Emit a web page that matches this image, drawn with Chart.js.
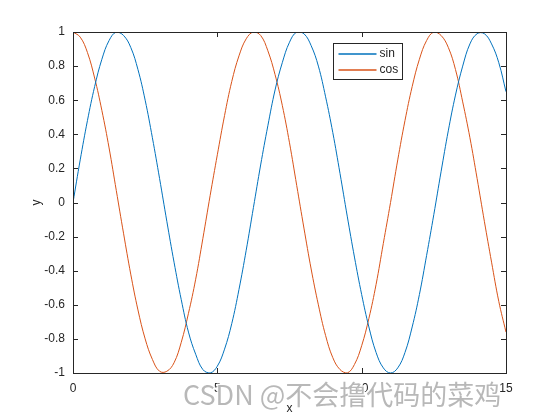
<!DOCTYPE html>
<html>
<head>
<meta charset="utf-8">
<script src="https://cdn.jsdelivr.net/npm/chart.js@4"></script>
<style>
  html, body { margin: 0; padding: 0; background: #fff; }
  canvas { display: block; }
</style>
</head>
<body>
<canvas id="plot" width="560" height="420"></canvas>
<script>
// x samples read along the axis, step 0.25
const xValues = [
  0, 0.25, 0.5, 0.75, 1, 1.25, 1.5, 1.75, 2, 2.25, 2.5, 2.75, 3, 3.25, 3.5, 3.75,
  4, 4.25, 4.5, 4.75, 5, 5.25, 5.5, 5.75, 6, 6.25, 6.5, 6.75, 7, 7.25, 7.5, 7.75,
  8, 8.25, 8.5, 8.75, 9, 9.25, 9.5, 9.75, 10, 10.25, 10.5, 10.75, 11, 11.25, 11.5, 11.75,
  12, 12.25, 12.5, 12.75, 13, 13.25, 13.5, 13.75, 14, 14.25, 14.5, 14.75, 15
];
const sinValues = [
  0.00, 0.25, 0.48, 0.68, 0.84, 0.95, 1.00, 0.98, 0.91, 0.78, 0.60, 0.38, 0.14, -0.11, -0.35, -0.57,
  -0.76, -0.89, -0.98, -1.00, -0.96, -0.86, -0.71, -0.51, -0.28, -0.03, 0.22, 0.45, 0.66, 0.82, 0.94, 1.00,
  0.99, 0.92, 0.80, 0.62, 0.41, 0.17, -0.08, -0.32, -0.54, -0.73, -0.88, -0.97, -1.00, -0.97, -0.88, -0.73,
  -0.54, -0.31, -0.07, 0.18, 0.42, 0.63, 0.80, 0.93, 0.99, 0.99, 0.93, 0.82, 0.65
];
const cosValues = [
  1.00, 0.97, 0.88, 0.73, 0.54, 0.32, 0.07, -0.18, -0.42, -0.63, -0.80, -0.92, -0.99, -0.99, -0.94, -0.82,
  -0.65, -0.45, -0.21, 0.04, 0.28, 0.51, 0.71, 0.86, 0.96, 1.00, 0.98, 0.89, 0.75, 0.57, 0.35, 0.10,
  -0.15, -0.39, -0.60, -0.78, -0.91, -0.98, -1.00, -0.95, -0.84, -0.68, -0.48, -0.24, 0.00, 0.25, 0.48, 0.68,
  0.84, 0.95, 1.00, 0.98, 0.91, 0.78, 0.59, 0.38, 0.14, -0.11, -0.35, -0.58, -0.76
];
const seriesNames = ['sin', 'cos'];
const seriesColors = ['#0072BD', '#D95319'];
const watermark = 'CSDN @不会撸代码的菜鸡';

const axisColor = '#262626';
const font = { family: '"Liberation Sans", Arial, sans-serif', size: 12 };

// box, inward ticks and legend drawn the MATLAB way
const matlabAxes = {
  id: 'matlabAxes',
  afterDraw(chart) {
    const { ctx, chartArea: a, scales } = chart;
    const tl = 5;
    ctx.save();
    ctx.strokeStyle = axisColor;
    ctx.lineWidth = 1;
    ctx.strokeRect(a.left + 0.5, a.top + 0.5, a.right - a.left, a.bottom - a.top);
    ctx.beginPath();
    scales.x.ticks.forEach(t => {
      const px = Math.round(scales.x.getPixelForValue(t.value)) + 0.5;
      ctx.moveTo(px, a.bottom); ctx.lineTo(px, a.bottom - tl);
      ctx.moveTo(px, a.top); ctx.lineTo(px, a.top + tl);
    });
    scales.y.ticks.forEach(t => {
      const py = Math.round(scales.y.getPixelForValue(t.value)) + 0.5;
      ctx.moveTo(a.left, py); ctx.lineTo(a.left + tl, py);
      ctx.moveTo(a.right, py); ctx.lineTo(a.right - tl, py);
    });
    ctx.stroke();

    // legend box
    const lx = 333.5, ly = 43.5, lw = 69, lh = 36;
    ctx.fillStyle = '#fff';
    ctx.fillRect(lx, ly, lw, lh);
    ctx.strokeStyle = axisColor;
    ctx.strokeRect(lx, ly, lw, lh);
    ctx.font = '12px "Liberation Sans", Arial, sans-serif';
    ctx.textBaseline = 'middle';
    seriesNames.forEach((name, i) => {
      const y = Math.round(ly + 10 + i * 16);
      ctx.strokeStyle = seriesColors[i];
      ctx.lineWidth = 1.4;
      ctx.beginPath();
      ctx.moveTo(lx + 5, y); ctx.lineTo(lx + 43, y);
      ctx.stroke();
      ctx.fillStyle = axisColor;
      ctx.fillText(name, lx + 46, y);
    });

    // watermark
    ctx.font = '27px "Noto Sans CJK SC", sans-serif';
    ctx.textBaseline = 'middle';
    ctx.lineWidth = 3;
    ctx.strokeStyle = 'rgba(255,255,255,0.85)';
    ctx.strokeText(watermark, 183, 395);
    ctx.fillStyle = '#b8b8b8';
    ctx.fillText(watermark, 183, 395);
    ctx.restore();
  }
};

new Chart(document.getElementById('plot'), {
  type: 'line',
  data: {
    datasets: seriesNames.map((name, k) => ({
      label: name,
      data: xValues.map((x, i) => ({ x, y: (k === 0 ? sinValues : cosValues)[i] })),
      borderColor: seriesColors[k],
      borderWidth: 1,
      pointRadius: 0,
      tension: 0.4
    }))
  },
  options: {
    responsive: false,
    animation: false,
    events: [],
    layout: { padding: { left: 25, top: 32, right: 54, bottom: 4 } },
    plugins: { legend: { display: false }, tooltip: { enabled: false } },
    scales: {
      x: {
        type: 'linear',
        min: 0, max: 15,
        grid: { display: false },
        border: { display: false },
        ticks: { stepSize: 5, color: axisColor, font, padding: 0, maxRotation: 0 },
        title: { display: true, text: 'x', color: axisColor, font, padding: 0 },
        afterFit(scale) { scale.height = 43; }
      },
      y: {
        min: -1, max: 1,
        grid: { display: false },
        border: { display: false },
        ticks: { stepSize: 0.2, color: axisColor, font, padding: 0,
          callback: v => Number(v.toFixed(1)).toString() },
        title: { display: true, text: 'y', color: axisColor, font, padding: 4 },
        afterFit(scale) { scale.width = 48; }
      }
    }
  },
  plugins: [matlabAxes]
});
</script>
</body>
</html>
